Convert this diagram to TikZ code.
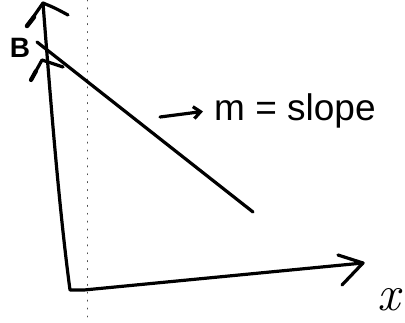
\documentclass[tikz,border=0pt]{standalone}
\usepackage{fontspec}
\newfontfamily\hand{Liberation Sans}
\usetikzlibrary{arrows.meta}
\begin{document}
\begin{tikzpicture}[x=1pt,y=-1pt,line cap=round,line join=round,
  ink/.style={line width=3.2pt,black},
  guide/.style={line width=1pt,black!70,dash pattern=on 0.9pt off 7pt},
  lbl/.style={inner sep=0pt}]
\useasboundingbox[fill=white] (0,0) rectangle (405,322);
% dotted guide
\draw[guide] (87,0) -- (87,322);
% axes
\coordinate (O) at (70,290);
\coordinate (Ytip) at (43,3);
\coordinate (Xtip) at (363,263);
\draw[ink] (Ytip) .. controls (52,120) and (60,215) .. (O) -- (84,290) -- (Xtip);
\draw[ink] (27,26) -- (Ytip) .. controls (55,8) .. (68,15);
\draw[line width=4.5pt] (27,26) -- (34,17);
\draw[ink] (338,255) -- (Xtip) -- (342,285);
% line through intercept
\coordinate (L1) at (37,42);
\coordinate (L2) at (253,212);
\draw[ink] (L1) -- (L2);
% small A-shaped mark on the y-axis
\draw[ink] (31,80) -- (42,60) -- (63,67);
\draw[line width=4.2pt] (31,80) -- (36,71);
% labels
\node[lbl] (B) at (20,48) {\hand\bfseries\fontsize{28}{28}\selectfont B};
\node[lbl,anchor=base west,font=\hand\fontsize{37}{37}\selectfont] (m) at (214,120) {m = slope};
\coordinate (atail) at (160,117);
\draw[ink,-{Straight Barb[length=7pt,width=12pt]}] (atail) -- ([xshift=-11pt,yshift=-1pt]m.west);
\node[lbl,font=\fontsize{50}{50}\selectfont\itshape] (xl) at (389,300) {x};
\end{tikzpicture}
\end{document}
